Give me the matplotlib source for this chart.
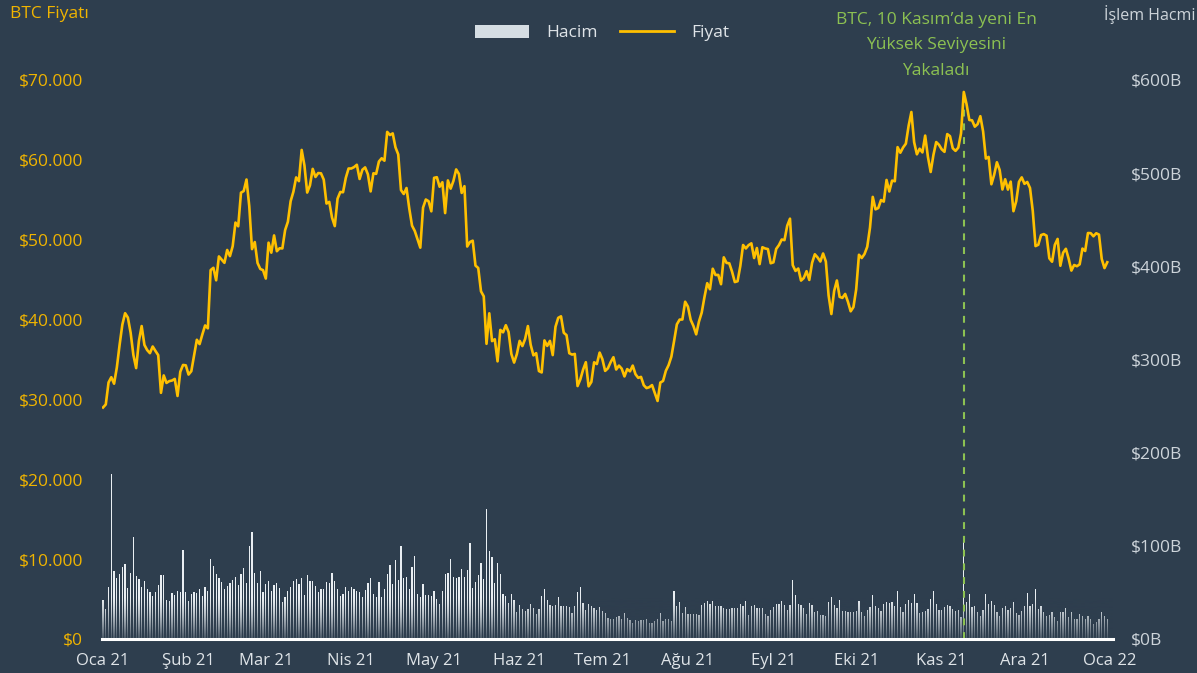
import numpy as np
import pandas as pd
import matplotlib
matplotlib.use("Agg")
import matplotlib.pyplot as plt
import matplotlib.dates as mdates
from matplotlib.patches import Patch
from matplotlib.lines import Line2D

plt.rcParams['font.family'] = ['Open Sans', 'DejaVu Sans']

# daily BTC price (USD), 1 Jan 2021 .. 31 Dec 2021
price = [
    28990,
    # Jan
    29374, 32127, 32782, 31971, 33992, 36824, 39371, 40797, 40254, 38357, 35566, 33922, 37316, 39188, 36825, 36178,
    35792, 36630, 36069, 35547, 30825, 33005, 32067, 32289, 32366, 32569, 30432, 33466, 34316, 34269, 33114,
    # Feb
    33537, 35510, 37472, 36926, 38144, 39266, 38903, 46196, 46481, 44918, 47909, 47504, 47105, 48717, 47945, 49199,
    52149, 51679, 55888, 56099, 57539, 54207, 48824, 49705, 47093, 46339, 46188, 45137,
    # Mar
    49631, 48378, 50538, 48561, 48927, 48912, 51206, 52246, 54824, 56008, 57805, 57332, 61243, 59302, 55907, 56804,
    58870, 57858, 58346, 58313, 57523, 54529, 54738, 52774, 51704, 55137, 55974, 55947, 57750, 58918, 58918,
    # Apr
    59095, 59384, 57604, 58760, 59057, 58192, 56048, 58323, 58245, 59793, 60204, 59893, 63503, 63109, 63314, 61572,
    60683, 56216, 55724, 56473, 53906, 51762, 51093, 50050, 49004, 54021, 55033, 54824, 53555, 57750,
    # May
    57828, 56631, 57200, 53333, 57424, 56396, 57356, 58803, 58232, 55859, 56704, 49150, 49716, 49880, 46760, 46456,
    43537, 42909, 36964, 40784, 37304, 37536, 34770, 38705, 38403, 39294, 38437, 35698, 34616, 35678, 37332,
    # Jun
    36684, 37575, 39188, 36851, 35520, 35796, 33552, 33380, 37389, 36702, 37334, 35552, 39097, 40219, 40406, 38347,
    38053, 35787, 35615, 35698, 31676, 32505, 33723, 34662, 31637, 32186, 34650, 34434, 35867, 35040,
    # Jul
    33573, 33897, 34668, 35287, 33746, 34235, 33855, 32877, 33798, 33520, 34240, 33155, 32702, 32822, 31780, 31421,
    31533, 31796, 30817, 29807, 32110, 32313, 33581, 34292, 35350, 37337, 39406, 39995, 40008, 42236, 41626,
    # Aug
    39974, 39201, 38152, 39747, 40870, 42816, 44555, 43798, 46365, 45585, 45593, 44428, 47793, 47096, 47047, 45999,
    44695, 44801, 46717, 49339, 48905, 49321, 49546, 47706, 48960, 46942, 49058, 48903, 48829, 47054, 47166,
    # Sep
    48847, 49327, 50025, 49944, 51753, 52633, 46811, 46091, 46391, 44883, 45201, 46063, 44963, 47092, 48176, 47783,
    47268, 48278, 47261, 43012, 40693, 43574, 44895, 42840, 42716, 43208, 42235, 41034, 41564, 43790,
    # Oct
    48116, 47711, 48199, 49112, 51514, 55361, 53805, 53967, 54968, 54771, 57484, 56041, 57401, 57321, 61593, 60892,
    61553, 62026, 64261, 65992, 62210, 60692, 61393, 60930, 63039, 60363, 58482, 60622, 62228, 61888, 61318,
    # Nov
    61004, 63226, 62970, 61452, 61125, 61527, 63327, 68500, 66971, 64995, 64949, 64155, 64469, 65466, 63557, 60161,
    60368, 56942, 58119, 59697, 58730, 56289, 57569, 56280, 57274, 53570, 54815, 57248, 57807, 56998,
    # Dec
    57229, 56477, 53598, 49201, 49368, 50582, 50700, 50504, 47672, 47243, 49362, 50098, 46737, 48378, 48864, 47632,
    46131, 46834, 46681, 46914, 48890, 48588, 50838, 50820, 50429, 50810, 50640, 47588, 46444, 47178,
]

# daily trading volume (billion USD)
volume = [
    42, 32, 56, 177, 73, 66, 70, 77, 81, 55, 71, 110, 68, 64, 56, 62, 54, 50, 46, 50,
    58, 69, 69, 42, 41, 49, 47, 51, 50, 96, 50, 41, 48, 50, 49, 54, 46, 56, 52, 86,
    78, 70, 65, 61, 54, 57, 60, 63, 67, 58, 70, 76, 60, 100, 115, 71, 60, 73, 50, 59,
    62, 52, 58, 60, 55, 40, 45, 52, 56, 62, 64, 59, 66, 47, 69, 62, 62, 57, 50, 54,
    54, 61, 60, 71, 62, 54, 46, 48, 56, 51, 56, 54, 51, 50, 45, 53, 60, 66, 48, 45,
    61, 45, 54, 70, 79, 59, 85, 63, 100, 65, 67, 54, 77, 89, 48, 45, 59, 47, 47, 46,
    52, 43, 38, 52, 70, 71, 86, 67, 65, 67, 75, 67, 74, 103, 55, 61, 69, 82, 64, 140, 94,
    88, 60, 82, 70, 48, 46, 39, 48, 42, 29, 37, 32, 30, 32, 38, 33, 27, 32, 46, 54,
    42, 36, 35, 37, 45, 35, 35, 35, 34, 28, 35, 50, 56, 39, 31, 38, 35, 33, 31, 34,
    30, 28, 23, 21, 21, 24, 25, 22, 28, 23, 20, 17, 20, 19, 20, 20, 21, 17, 17, 19,
    21, 28, 19, 21, 21, 19, 52, 35, 40, 28, 34, 27, 27, 27, 27, 26, 37, 39, 41, 38,
    41, 35, 35, 35, 33, 32, 32, 33, 33, 33, 38, 35, 41, 26, 35, 37, 33, 33, 33, 27,
    25, 31, 34, 38, 38, 41, 36, 31, 36, 63, 47, 38, 37, 33, 27, 39, 37, 29, 30, 26,
    26, 25, 40, 45, 36, 33, 42, 30, 30, 29, 29, 29, 30, 41, 29, 25, 31, 34, 47, 35, 33,
    30, 38, 40, 39, 40, 35, 52, 34, 29, 38, 42, 39, 48, 39, 28, 29, 30, 32, 43, 51,
    38, 31, 31, 34, 36, 35, 32, 30, 31, 24, 104, 40, 48, 34, 35, 29, 25, 31, 48, 38,
    41, 37, 29, 25, 33, 35, 31, 33, 40, 28, 26, 30, 35, 49, 35, 38, 54, 32, 35, 29,
    25, 26, 29, 24, 19, 29, 29, 33, 24, 29, 22, 22, 27, 25, 21, 25, 21, 16, 18, 21,
    29, 25, 22,
]

dates = pd.date_range("2021-01-01", periods=len(price), freq="D")
month_ticks = pd.date_range("2021-01-01", "2022-01-01", freq="MS")
month_labels = ["Oca 21", "Şub 21", "Mar 21", "Nis 21", "May 21", "Haz 21", "Tem 21",
                "Ağu 21", "Eyl 21", "Eki 21", "Kas 21", "Ara 21", "Oca 22"]
price_ticks = list(range(0, 70001, 10000))
vol_ticks = list(range(0, 601, 100))

BG = "#2e3e4e"
GOLD = "#ffc000"
GOLD_TXT = "#f0b400"
GREEN = "#8cc152"
LIGHT = "#dfe4e8"
GREY_TXT = "#cdd4da"

fig = plt.figure(figsize=(11.97, 6.73), dpi=100, facecolor=BG)
ax = fig.add_axes([102 / 1197, 34 / 673, 1011 / 1197, 559 / 673])
ax_vol = ax.twinx()
ax.set_zorder(ax_vol.get_zorder() + 1)
ax.patch.set_visible(False)

# volume bars with fade toward the base
ax_vol.bar(dates, volume, width=0.45, color="#e9eef2", linewidth=0, zorder=1)
x0 = mdates.date2num(pd.Timestamp("2020-12-30"))
x1 = mdates.date2num(pd.Timestamp("2022-01-03"))
bg_rgb = matplotlib.colors.to_rgb(BG)
grad = np.zeros((100, 1, 4))
grad[:, 0, :3] = bg_rgb
grad[:, 0, 3] = np.linspace(0.9, 0.0, 100) ** 1.3
ax_vol.imshow(grad, extent=[x0, x1, 0, 45], aspect="auto", origin="lower", zorder=2)

# price line
ax.plot(dates, price, color=GOLD, lw=1.9, zorder=3)

# all-time-high marker
ath = dates[int(np.argmax(price))]
ax.axvline(ath, ymin=0, ymax=0.973, color=GREEN, lw=1.5, linestyle=(0, (3.3, 3.3)), zorder=2)
ax.annotate("BTC, 10 Kasım’da yeni En\nYüksek Seviyesini\nYakaladı",
            xy=(ath, 1), xycoords=("data", "axes fraction"),
            xytext=(-20, 25), textcoords="offset points",
            ha="center", va="center", color=GREEN, fontsize=12.5,
            linespacing=1.8, annotation_clip=False)

xlo = pd.Timestamp("2021-01-01") - pd.Timedelta(hours=9)
xhi = pd.Timestamp("2022-01-01") + pd.Timedelta(hours=26)
ax.set_xlim(xlo, xhi)
ax_vol.set_xlim(xlo, xhi)

ax.set_ylim(0, 70000)
ax.set_yticks(price_ticks)
ax.set_yticklabels([f"${v:,}".replace(",", ".") for v in price_ticks])
ax_vol.set_ylim(0, 600)
ax_vol.set_yticks(vol_ticks)
ax_vol.set_yticklabels([f"${v}B" for v in vol_ticks])

ax.set_xticks(month_ticks)
ax.set_xticklabels(month_labels)

ax.tick_params(axis="y", length=0, pad=13.5, labelsize=12.5, labelcolor=GOLD_TXT)
ax_vol.tick_params(axis="y", length=0, pad=13, labelsize=12.5, labelcolor=GREY_TXT)
ax.tick_params(axis="x", length=0, pad=10, labelsize=12, labelcolor=LIGHT)

for s in ax.spines.values():
    s.set_visible(False)
for s in ax_vol.spines.values():
    s.set_visible(False)
ax.spines["bottom"].set_visible(True)
ax.spines["bottom"].set_color("white")
ax.spines["bottom"].set_linewidth(2.2)

fig.text(10 / 1197, 1 - 14 / 673, "BTC Fiyatı", color=GOLD_TXT, fontsize=12.5, ha="left", va="center")
fig.text(1195 / 1197, 1 - 14 / 673, "İşlem Hacmi", color=GREY_TXT, fontsize=11.5, ha="right", va="center")

handles = [Patch(facecolor="#d5dde3", edgecolor="none", label="Hacim"),
           Line2D([], [], color=GOLD, lw=2, label="Fiyat")]
fig.legend(handles=handles, loc="center", bbox_to_anchor=(602 / 1197, 1 - 33 / 673), ncol=2,
           frameon=False, fontsize=12.5, labelcolor=LIGHT, handlelength=3.1,
           handletextpad=1.0, columnspacing=1.3, handleheight=0.75)

fig.savefig("out.png", dpi=100, facecolor=BG)
